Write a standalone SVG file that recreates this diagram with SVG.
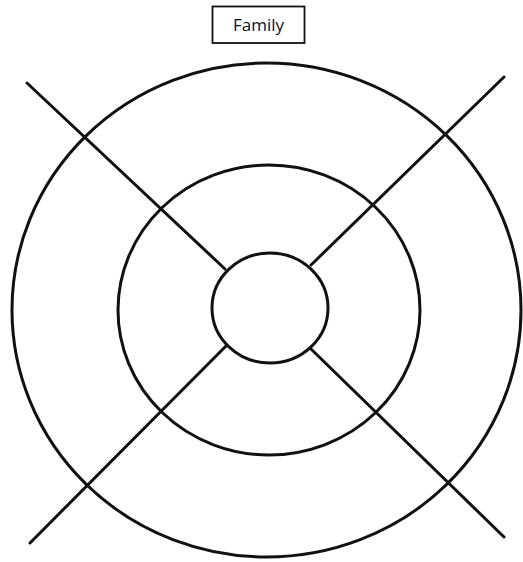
<svg xmlns="http://www.w3.org/2000/svg" width="523" height="562" viewBox="0 0 523 562">
<style>
.ring{fill:none;stroke:#111;stroke-width:3}
.spoke{stroke:#111;stroke-width:3;stroke-linecap:round;fill:none}
.box{fill:#fff;stroke:#111;stroke-width:1.8}
.lbl{font-family:"Open Sans","Liberation Sans",sans-serif;font-size:17px;fill:#111;text-anchor:middle}
</style>
<rect width="523" height="562" fill="#fff"/>
<g id="title">
<rect class="box" x="212.5" y="6.5" width="92" height="36.5"/>
<text class="lbl" x="258.5" y="30.5">Family</text>
</g>
<g id="outer-ring"><ellipse class="ring" cx="266.5" cy="310" rx="254.5" ry="247"/></g>
<g id="middle-ring"><ellipse class="ring" cx="269" cy="310" rx="151" ry="145"/></g>
<g id="inner-circle"><ellipse class="ring" cx="270" cy="308" rx="58" ry="55"/></g>
<g id="connectors">
<line class="spoke" x1="27" y1="83" x2="225" y2="269"/>
<line class="spoke" x1="504" y1="77" x2="311" y2="265"/>
<line class="spoke" x1="30" y1="543" x2="226" y2="346"/>
<line class="spoke" x1="504" y1="537" x2="311" y2="349"/>
</g>
</svg>
